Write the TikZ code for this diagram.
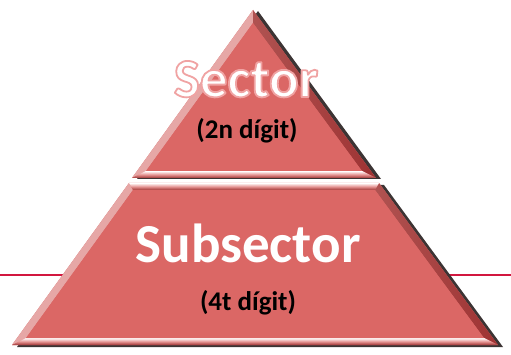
\documentclass[tikz,border=0pt]{standalone}
\usepackage{fontspec}
\setmainfont{Carlito}
\definecolor{mainred}{HTML}{DB6765}
\definecolor{lightbev}{HTML}{E6A7A6}
\definecolor{darkbev}{HTML}{9E3333}
\definecolor{shadowc}{HTML}{3C3434}
\definecolor{lineRed}{HTML}{D2173F}
\newcommand{\glowtext}[1]{{\color{white}\special{pdf:literal direct 1 j 2 Tr 1.8 w 0.94 0.64 0.64 RG}#1\special{pdf:literal direct 0 Tr}}}
\tikzset{
  facefill/.style={fill=mainred},
  leftbev/.style={fill=lightbev},
  rightbev/.style={left color=mainred!80!black, right color=darkbev},
  hbev/.style={top color=white, bottom color=darkbev, middle color=mainred!70!white},
  shadowfill/.style={fill=shadowc},
  bigtext/.style={font=\bfseries\fontsize{55}{55}\selectfont, text=white, inner sep=0pt, anchor=base},
  smalltext/.style={font=\bfseries\fontsize{27}{27}\selectfont, text=black, inner sep=0pt, anchor=base}
}
\begin{document}
\begin{tikzpicture}[x=1pt,y=-1pt]
\useasboundingbox (0,0) rectangle (511,355);
% red horizontal line behind pyramid
\coordinate (lineL) at (0,275);
\coordinate (lineR) at (511,275);
\draw[lineRed, line width=1.6pt] (lineL) -- (lineR);

% ---- top triangle ----
\coordinate (A) at (253,10);
\coordinate (L) at (132,178);
\coordinate (R) at (376,178);
\coordinate (Ai) at (253,23);
\coordinate (Li) at (146,171);
\coordinate (Ri) at (362,171);
\fill[shadowfill] ([xshift=5pt,yshift=-1pt]A) -- ([xshift=5pt,yshift=-1pt]R) -- ([xshift=5pt,yshift=-1pt]L) -- cycle;
\fill[facefill] (A) -- (R) -- (L) -- cycle;
\fill[leftbev] (A) -- (L) -- (Li) -- (Ai) -- cycle;
\shade[rightbev] (A) -- (Ai) -- (Ri) -- (R) -- cycle;
\shade[hbev] (L) -- (Li) -- (Ri) -- (R) -- cycle;
\fill[facefill] (Ai) -- (Ri) -- (Li) -- cycle;

% ---- bottom trapezoid ----
\coordinate (TL) at (129,183);
\coordinate (TR) at (379,183);
\coordinate (BR) at (498,345);
\coordinate (BL) at (12,345);
\coordinate (TLi) at (133,190);
\coordinate (TRi) at (375,190);
\coordinate (BRi) at (484,338);
\coordinate (BLi) at (26,338);
\fill[shadowfill] ([xshift=5pt,yshift=-2pt]TL) -- ([xshift=5pt,yshift=-2pt]TR) -- ([xshift=5pt,yshift=-2pt]BR) -- ([xshift=5pt,yshift=-2pt]BL) -- cycle;
\fill[facefill] (TL) -- (TR) -- (BR) -- (BL) -- cycle;
\fill[leftbev] (TL) -- (TLi) -- (BLi) -- (BL) -- cycle;
\shade[rightbev] (TR) -- (BR) -- (BRi) -- (TRi) -- cycle;
\shade[hbev] (TL) -- (TR) -- (TRi) -- (TLi) -- cycle;
\shade[hbev] (BLi) -- (BRi) -- (BR) -- (BL) -- cycle;
\fill[facefill] (TLi) -- (TRi) -- (BRi) -- (BLi) -- cycle;

% ---- texts ----
\node[bigtext] (sector) at (246,97) {\glowtext{Sector}};
\node[smalltext] (sectordig) at (247,139) {(2n dígit)};
\node[bigtext] (subsector) at (248,262) {Subsector};
\node[smalltext] (subsectordig) at (248,310) {(4t dígit)};
\end{tikzpicture}
\end{document}
